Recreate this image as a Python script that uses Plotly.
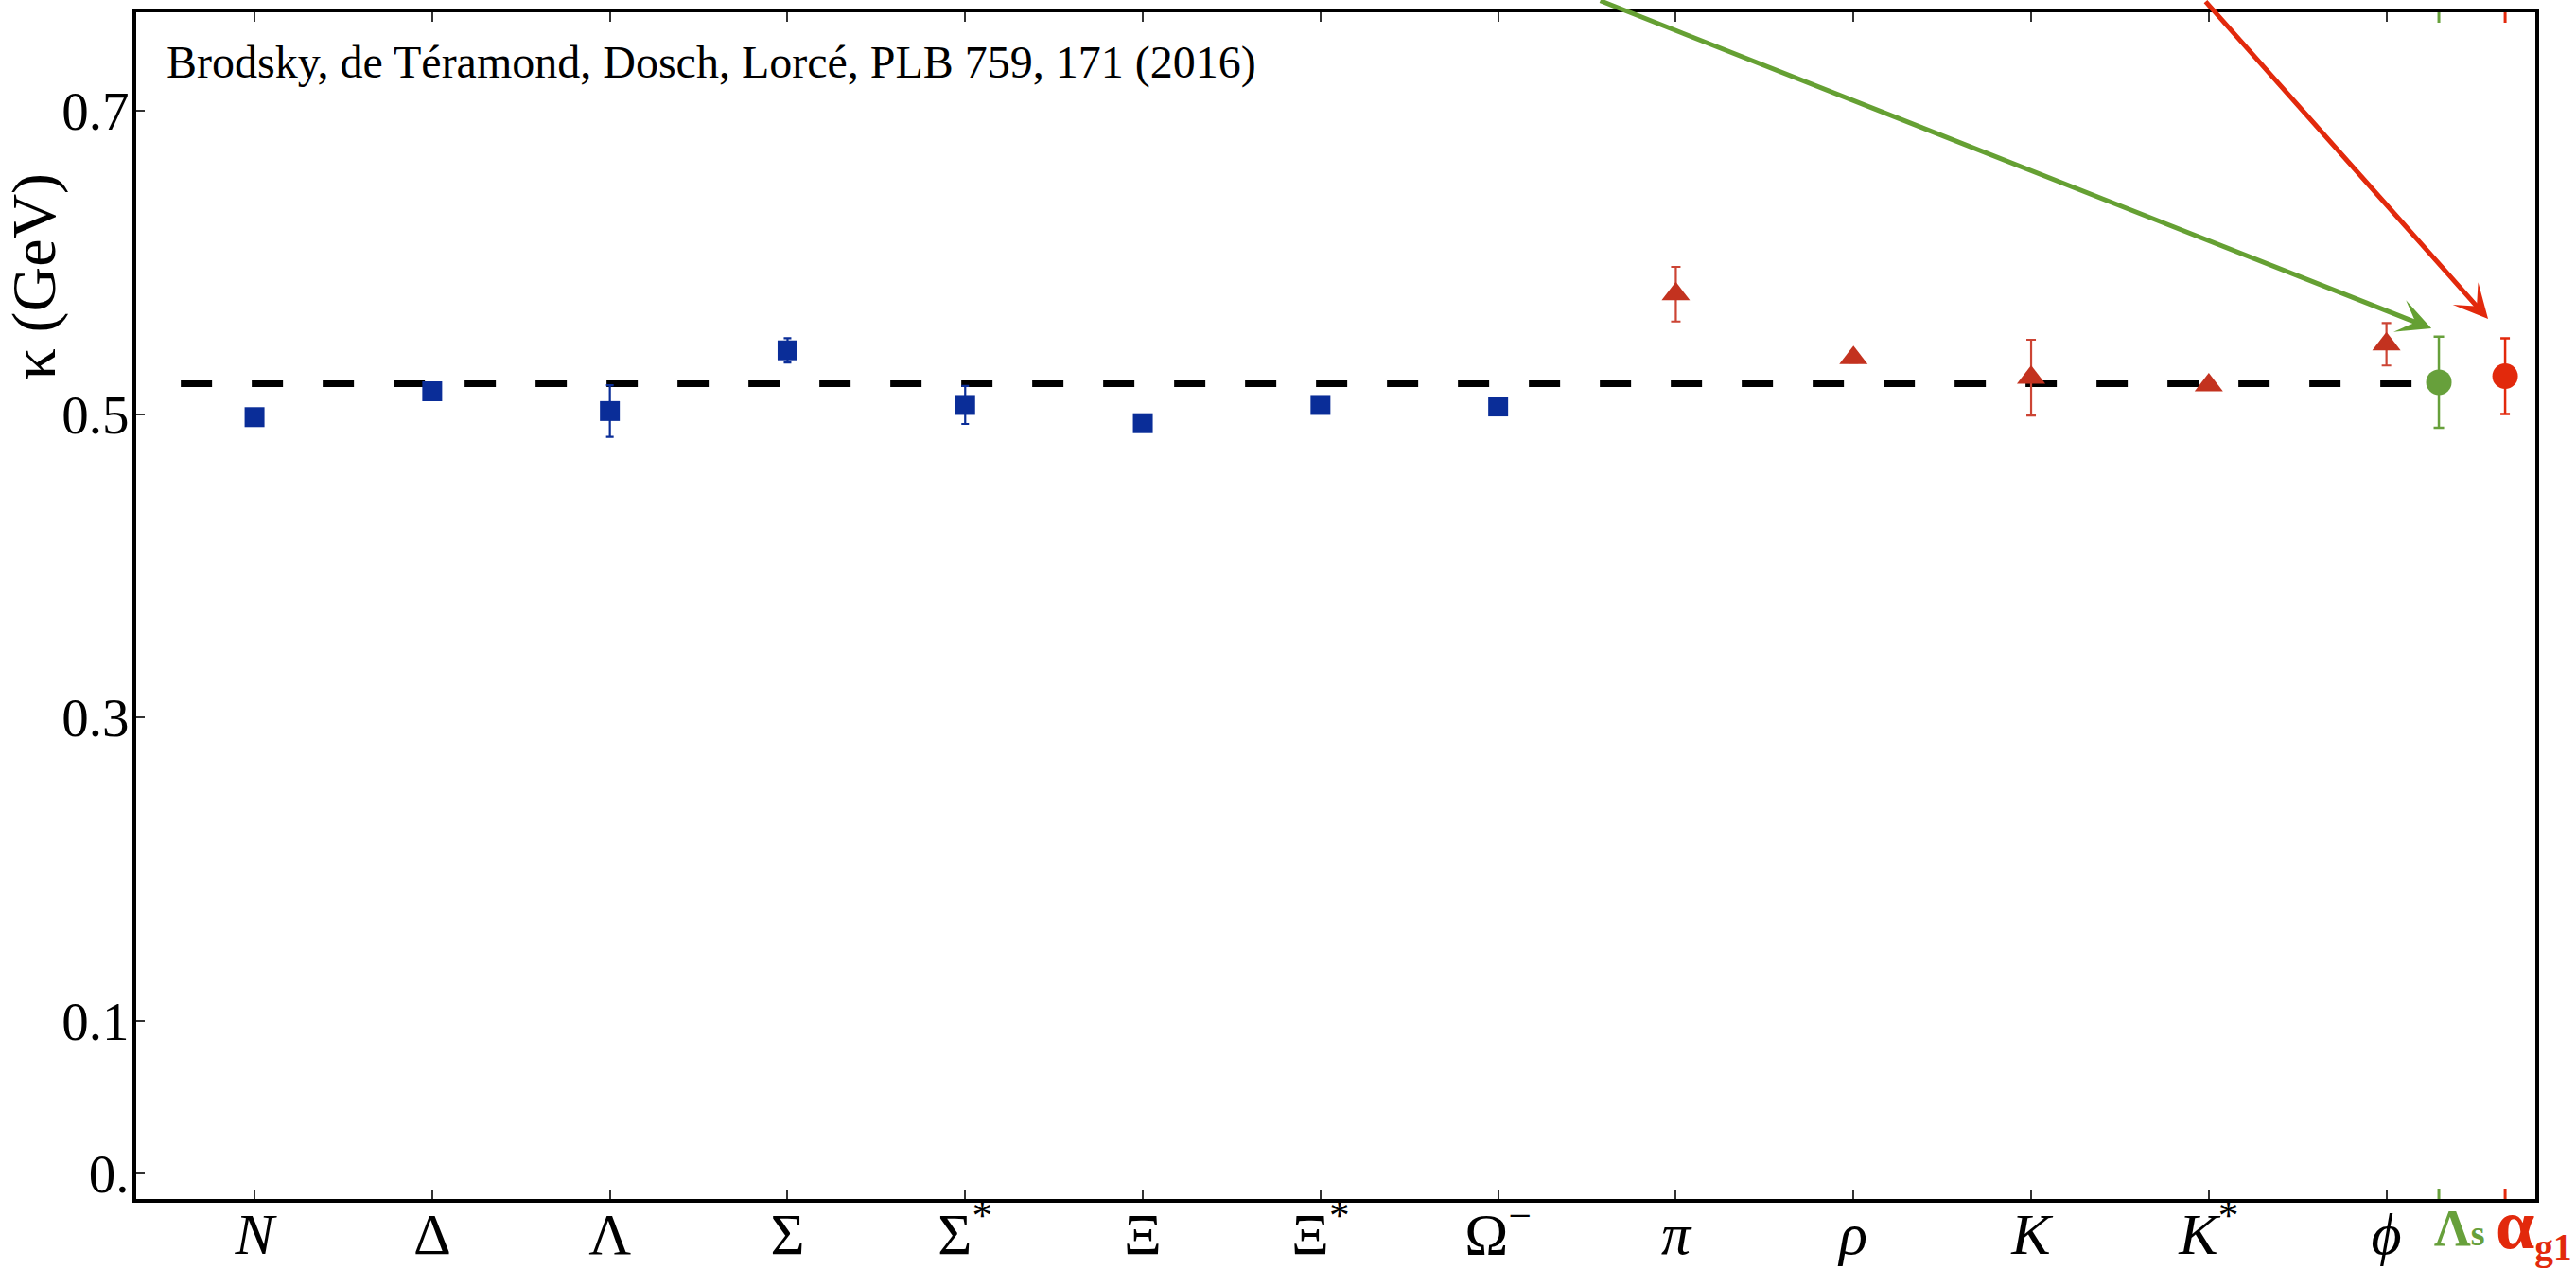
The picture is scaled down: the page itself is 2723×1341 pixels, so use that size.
import plotly.graph_objects as go

# Confinement scale kappa (GeV) extracted from each hadron family
baryons = ["N", "Δ", "Λ", "Σ", "Σ*", "Ξ", "Ξ*", "Ω⁻"]
baryon_kappa = [0.498, 0.515, 0.502, 0.542, 0.506, 0.494, 0.506, 0.505]
baryon_err = [0.002, 0.0, 0.017, 0.008, 0.0125, 0.0, 0.0, 0.0]

mesons = ["π", "ρ", "K", "K*", "ϕ"]
meson_kappa = [0.579, 0.537, 0.524, 0.519, 0.546]
meson_err = [0.018, 0.003, 0.025, 0.003, 0.014]

# kappa from the QCD scale Lambda_s and from the effective coupling alpha_g1
lambda_s_kappa = [0.521]
lambda_s_err = [0.030]
alpha_g1_kappa = [0.525]
alpha_g1_err = [0.025]

# common value shown as the dashed reference line
kappa_line = 0.52

# category axis labels (rich text)
hadron_ticktext = ["<i>N</i>", "Δ", "Λ", "Σ", "Σ<sup>*</sup>", "Ξ", "Ξ<sup>*</sup>",
                   "Ω<sup>−</sup>", "<i>π</i>", "<i>ρ</i>", "<i>K</i>",
                   "<i>K</i><sup>*</sup>", "<i>ϕ</i>"]
y_tickvals = [0.0, 0.1, 0.3, 0.5, 0.7]
y_ticktext = ["0.", "0.1", "0.3", "0.5", "0.7"]

# positions along the category axis
baryon_pos = list(range(1, len(baryons) + 1))
meson_pos = list(range(len(baryons) + 1, len(baryons) + len(mesons) + 1))
hadron_pos = baryon_pos + meson_pos
lambda_s_pos = [13.295]
alpha_g1_pos = [13.668]

BLUE = "#0a2d98"
BRICK = "#c3321f"
GREEN = "#67a03b"
RED = "#e2290c"
SERIF = "Liberation Serif, Times New Roman, serif"

fig = go.Figure()

# dashed reference line
fig.add_trace(go.Scatter(
    x=[0.585, 13.16], y=[kappa_line, kappa_line], mode="lines",
    line=dict(color="black", width=7, dash="33px,42px"),
    hoverinfo="skip", showlegend=False))

fig.add_trace(go.Scatter(
    x=baryon_pos, y=baryon_kappa, mode="markers", name="baryons",
    marker=dict(symbol="square", size=21, color=BLUE),
    error_y=dict(type="data", array=baryon_err, color=BLUE, thickness=2.2, width=4),
    showlegend=False))

fig.add_trace(go.Scatter(
    x=meson_pos, y=meson_kappa, mode="markers", name="mesons",
    marker=dict(symbol="triangle-up", size=26, color=BRICK),
    error_y=dict(type="data", array=meson_err, color="#cc4434", thickness=2.2, width=5),
    showlegend=False))

fig.add_trace(go.Scatter(
    x=lambda_s_pos, y=lambda_s_kappa, mode="markers", name="Λs",
    marker=dict(symbol="circle", size=27, color=GREEN),
    error_y=dict(type="data", array=lambda_s_err, color=GREEN, thickness=2.5, width=5.5),
    showlegend=False))

fig.add_trace(go.Scatter(
    x=alpha_g1_pos, y=alpha_g1_kappa, mode="markers", name="αg1",
    marker=dict(symbol="circle", size=27, color=RED),
    error_y=dict(type="data", array=alpha_g1_err, color=RED, thickness=2.5, width=5),
    showlegend=False))

# coloured tick marks for the two extra entries (bottom and top frame)
shapes = []
for pos, col in ((lambda_s_pos[0], GREEN), (alpha_g1_pos[0], RED)):
    shapes.append(dict(type="line", xref="x", yref="paper", ysizemode="pixel",
                       yanchor=0, x0=pos, x1=pos, y0=0, y1=11,
                       line=dict(color=col, width=3)))
    shapes.append(dict(type="line", xref="x", yref="paper", ysizemode="pixel",
                       yanchor=1, x0=pos, x1=pos, y0=0, y1=-11,
                       line=dict(color=col, width=3)))

annotations = [
    dict(text="Brodsky, de Téramond, Dosch, Lorcé, PLB 759, 171 (2016)",
         xref="paper", yref="paper", x=0.0118, y=0.958, xanchor="left", yanchor="middle",
         showarrow=False, font=dict(family=SERIF, size=48, color="black")),
    dict(text="κ (GeV)", textangle=-90, xref="paper", yref="paper",
         x=-0.0425, y=0.7775, xanchor="center", yanchor="middle",
         showarrow=False, font=dict(family=SERIF, size=66, color="black")),
    dict(text="<b>Λ<span style='font-size:38px'>s</span></b>",
         xref="x", yref="paper", x=13.26, y=0.0005, xanchor="left", yanchor="top",
         showarrow=False, font=dict(family=SERIF, size=54, color=GREEN)),
    dict(text="<b><span style='font-size:74px'>α</span><sub>g1</sub></b>",
         xref="x", yref="paper", x=13.605, y=0.0125, xanchor="left", yanchor="top",
         showarrow=False, font=dict(family=SERIF, size=56, color=RED)),
    # pointer arrows entering from above the frame
    dict(text="", x=13.253, y=0.5564, xref="x", yref="y",
         ax=8.567, ay=0.7727, axref="x", ayref="y",
         showarrow=True, arrowhead=3, arrowsize=1.2, arrowwidth=5,
         arrowcolor="#65a033"),
    dict(text="", x=13.572, y=0.5627, xref="x", yref="y",
         ax=11.975, ay=0.7727, axref="x", ayref="y",
         showarrow=True, arrowhead=3, arrowsize=1.2, arrowwidth=5,
         arrowcolor="#e2290c"),
]

fig.update_layout(
    width=2723, height=1341,
    margin=dict(l=144, r=43, t=13, b=74, autoexpand=False),
    paper_bgcolor="white", plot_bgcolor="white",
    shapes=shapes, annotations=annotations,
    font=dict(family=SERIF, color="black"),
)

fig.update_xaxes(
    range=[0.334, 13.838], tickmode="array", tickvals=hadron_pos, ticktext=hadron_ticktext,
    ticks="inside", ticklen=10, tickwidth=2, tickcolor="#333333",
    showline=True, linewidth=4, linecolor="black", mirror="ticks",
    showgrid=False, zeroline=False, automargin=False,
    ticklabelstandoff=-20,
    tickfont=dict(family=SERIF, size=62, color="black"),
)
fig.update_yaxes(
    range=[-0.0171, 0.7647], tickmode="array", tickvals=y_tickvals, ticktext=y_ticktext,
    ticks="inside", ticklen=9, tickwidth=2, tickcolor="#333333",
    showline=True, linewidth=4, linecolor="black", mirror=True,
    showgrid=False, zeroline=False, automargin=False,
    ticklabelstandoff=-8,
    tickfont=dict(family=SERIF, size=57, color="black"),
)

fig.write_html("out.html")
